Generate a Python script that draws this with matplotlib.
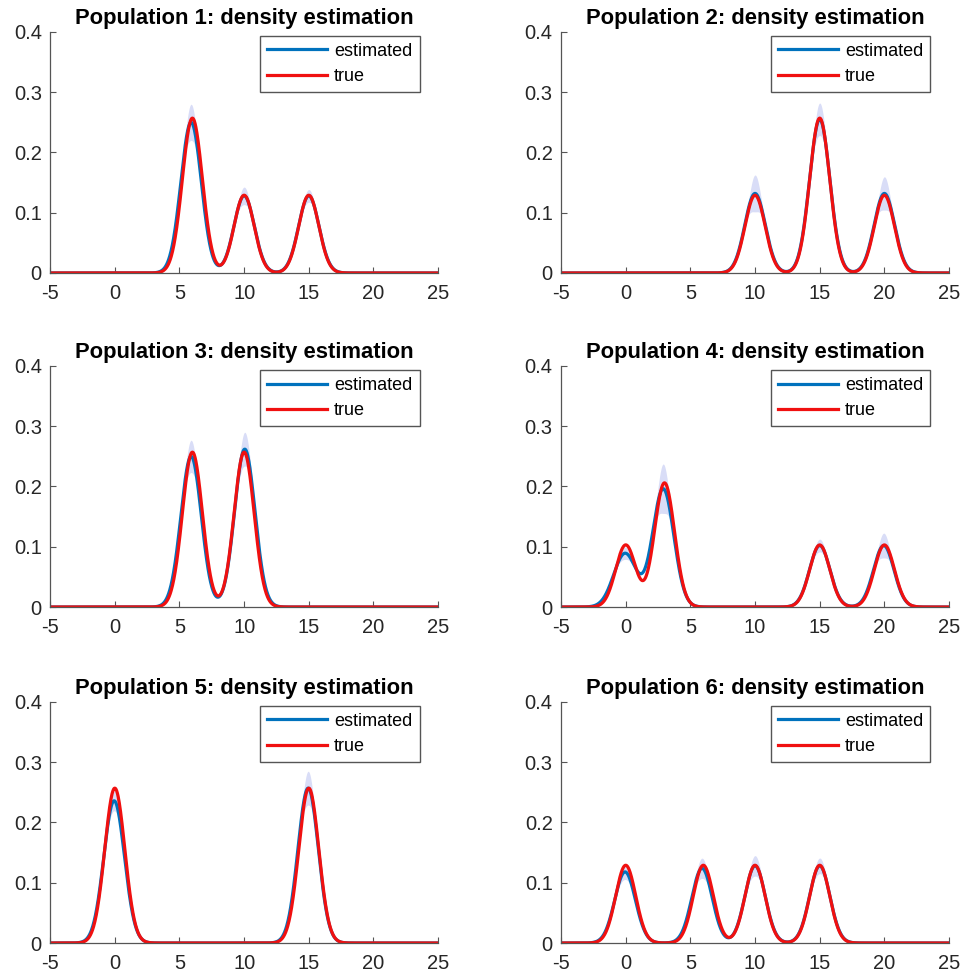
import numpy as np
import matplotlib
matplotlib.use('Agg')
import matplotlib.pyplot as plt

plt.rcParams['font.family'] = ['Liberation Sans', 'DejaVu Sans']
plt.rcParams['axes.unicode_minus'] = False

# peak positions and heights (one list per population)
titles = ['Population 1: density estimation', 'Population 2: density estimation',
          'Population 3: density estimation', 'Population 4: density estimation',
          'Population 5: density estimation', 'Population 6: density estimation']
true_means = [[6, 10, 15], [10, 15, 20], [6, 10], [0, 3, 15, 20], [0, 15], [0, 6, 10, 15]]
true_peaks = [[0.257, 0.129, 0.129], [0.129, 0.257, 0.129], [0.257, 0.257],
              [0.103, 0.206, 0.103, 0.103], [0.257, 0.257], [0.129, 0.129, 0.129, 0.129]]
est_means = [[5.9, 10.0, 15.0], [10.0, 15.0, 20.0], [5.9, 10.05], [-0.05, 2.9, 15.0, 19.95],
             [-0.05, 14.95], [-0.05, 5.9, 10.0, 15.0]]
est_peaks = [[0.250, 0.128, 0.128], [0.132, 0.255, 0.132], [0.250, 0.262],
             [0.089, 0.196, 0.102, 0.102], [0.236, 0.257], [0.118, 0.124, 0.128, 0.128]]
est_widths = [[0.79, 0.79, 0.79], [0.79, 0.79, 0.79], [0.79, 0.79],
              [0.88, 0.82, 0.79, 0.79], [0.80, 0.79], [0.80, 0.79, 0.79, 0.79]]
band_peaks = [[0.275, 0.140, 0.136], [0.160, 0.277, 0.157], [0.272, 0.285],
              [0.097, 0.232, 0.110, 0.120], [0.248, 0.280], [0.126, 0.136, 0.140, 0.136]]
sigma = 0.775        # component width of the true mixtures
band_sigma = 0.35    # how far the shaded spread reaches from each peak

xgrid = np.linspace(-5, 25, 1500)


def mixture(means, peaks, widths):
    y = np.zeros_like(xgrid)
    for m, h, s in zip(means, peaks, widths):
        y += h * np.exp(-(xgrid - m) ** 2 / (2 * s ** 2))
    return y


fig = plt.figure(figsize=(9.64, 9.77), dpi=100)
lefts = [0.052, 0.582]
bottoms = [0.7206, 0.3787, 0.0348]
w, h = 0.4025, 0.2467

for i in range(6):
    ax = fig.add_axes([lefts[i % 2], bottoms[i // 2], w, h])
    est = mixture(est_means[i], est_peaks[i], est_widths[i])
    spread = np.zeros_like(xgrid)
    for m, e, b in zip(est_means[i], est_peaks[i], band_peaks[i]):
        spread += (b - e) * np.exp(-(xgrid - m) ** 2 / (2 * band_sigma ** 2))
    spread += 0.005 * est / est.max()
    ax.fill_between(xgrid, est - spread, est + spread, color='#d9ddf7', lw=0)
    ax.plot(xgrid, est, color='#0072BD', lw=2.3, label='estimated')
    ax.plot(xgrid, mixture(true_means[i], true_peaks[i], [sigma] * len(true_means[i])),
            color='#f01010', lw=2.3, label='true')

    ax.set_xlim(-5, 25)
    ax.set_ylim(0, 0.4)
    ax.set_xticks(np.arange(-5, 26, 5))
    ax.set_yticks([0, 0.1, 0.2, 0.3, 0.4])
    ax.set_yticklabels(['0', '0.1', '0.2', '0.3', '0.4'])
    ax.spines['top'].set_visible(False)
    ax.spines['right'].set_visible(False)
    for s in ['left', 'bottom']:
        ax.spines[s].set_color('#555555')
        ax.spines[s].set_linewidth(0.9)
    ax.tick_params(direction='in', length=4, colors='#555555', labelcolor='#262626',
                   labelsize=14.5)
    ax.tick_params(axis='x', pad=8)
    ax.tick_params(axis='y', pad=6)
    ax.set_title(titles[i], fontsize=15.8, fontweight='bold', pad=6)
    ax.legend(loc='upper right', bbox_to_anchor=(0.952, 0.985), fontsize=13,
              fancybox=False, edgecolor='#555555', framealpha=1, handlelength=3.3,
              borderpad=0.4, labelspacing=0.45, handletextpad=0.4, borderaxespad=0)

fig.savefig('out.png', dpi=100)
